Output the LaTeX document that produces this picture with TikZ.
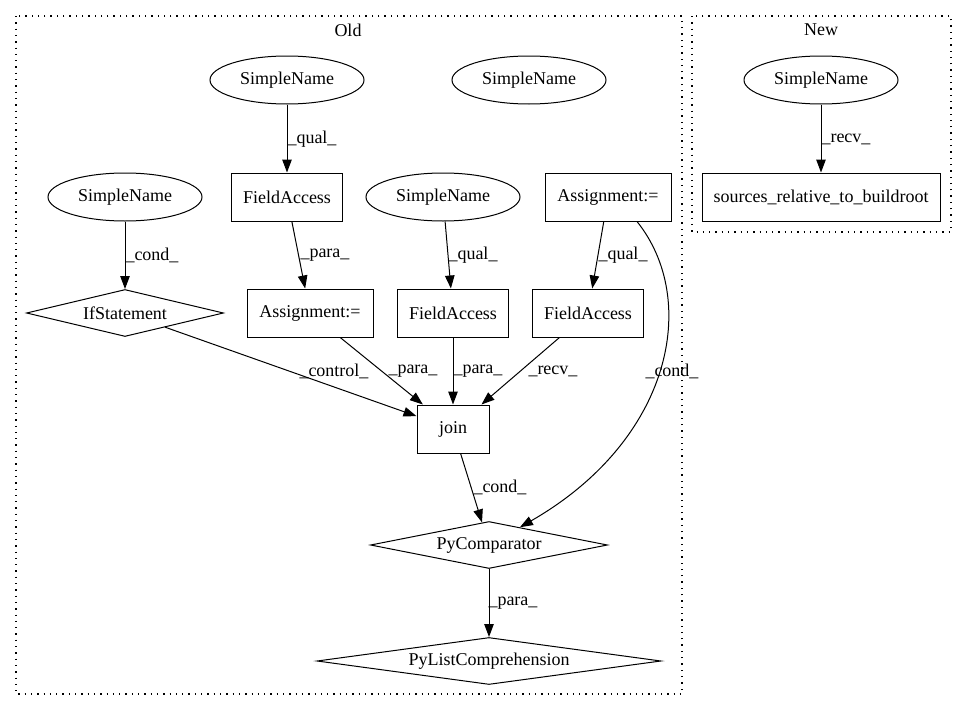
\documentclass[tikz,border=0pt]{standalone}
\usepackage{fontspec}
\setmainfont{Liberation Serif}
\usetikzlibrary{shapes.geometric,arrows.meta}

\begin{document}
\begin{tikzpicture}[x=1pt,y=-1pt,
  every node/.style={font=\fontsize{18}{21}\selectfont},
  astbox/.style={shape=rectangle,draw,line width=1pt,minimum height=48pt,inner sep=0pt},
  astname/.style={shape=ellipse,draw,line width=1pt,minimum width=154pt,minimum height=48pt,inner sep=0pt},
  astcond/.style={shape=diamond,draw,line width=1pt,minimum height=47pt,inner sep=0pt},
  astedge/.style={-{Triangle[length=13pt,width=9.5pt]},line width=1pt},
  elabel/.style={anchor=west,inner sep=0pt},
  cluster/.style={dash pattern=on 1.3pt off 5pt,line width=1.3pt}]
\useasboundingbox (0,0) rectangle (967,712);

% clusters
\draw[cluster] (16,16) rectangle (682,694);
\draw[cluster] (692,16) rectangle (951,232);
\node (oldtitle) at (348,30) {Old};
\node (newtitle) at (821,30) {New};

\node[astname] (sn1) at (287,80) {SimpleName};
\node[astname] (sn2) at (529,80) {SimpleName};
\node[astname] (snnew) at (821,80) {SimpleName};
\node[astname] (sn3) at (125,197) {SimpleName};
\node[astbox,minimum width=111pt] (fa1) at (287,197) {FieldAccess};
\node[astname] (sn4) at (443,197) {SimpleName};
\node[astbox,minimum width=126pt] (as2) at (608,197) {Assignment:=};
\node[astbox,minimum width=238pt] (srcrel) at (821,197) {sources\_relative\_to\_buildroot};

\node[astcond,minimum width=197pt,aspect=4.2] (ifst) at (125,313) {IfStatement};
\node[astbox,minimum width=126pt] (as1) at (310,313) {Assignment:=};
\node[astbox,minimum width=111pt] (fa2) at (453,313) {FieldAccess};
\node[astbox,minimum width=111pt] (fa3) at (588,313) {FieldAccess};

\node[astbox,minimum width=72pt] (join) at (453,429) {join};
\node[astcond,minimum width=237pt,aspect=5] (pycmp) at (489,545) {PyComparator};
\node[astcond,minimum width=344pt,aspect=7.3] (pylc) at (489,661) {PyListComprehension};

\draw[astedge] (sn1) -- (fa1) node[elabel] at (287,139) {\_qual\_};
\draw[astedge] (snnew) -- (srcrel) node[elabel] at (821,139) {\_recv\_};
\draw[astedge] (sn3) -- (ifst) node[elabel] at (125,255) {\_cond\_};
\draw[astedge] (fa1) -- (as1) node[elabel] at (300,255) {\_para\_};
\draw[astedge] (sn4) -- (fa2) node[elabel] at (448,255) {\_qual\_};
\draw[astedge] (as2) -- (fa3) node[elabel] at (598,255) {\_qual\_};

\draw[astedge] (ifst) -- (join) node[elabel] at (299,371) {\_control\_};
\draw[astedge] (as1) -- (join) node[elabel] at (388,371) {\_para\_};
\draw[astedge] (fa2) -- (join) node[elabel] at (453,371) {\_para\_};
\draw[astedge] (fa3) -- (join) node[elabel] at (528,371) {\_recv\_};
\draw[astedge] ([xshift=29pt]as2.south) .. controls (700,300) and (672,440) .. (pycmp)
  node[elabel] at (645,371) {\_cond\_};

\draw[astedge] (join) -- (pycmp) node[elabel] at (473,487) {\_cond\_};
\draw[astedge] (pycmp) -- (pylc) node[elabel] at (488,603) {\_para\_};
\end{tikzpicture}
\end{document}
